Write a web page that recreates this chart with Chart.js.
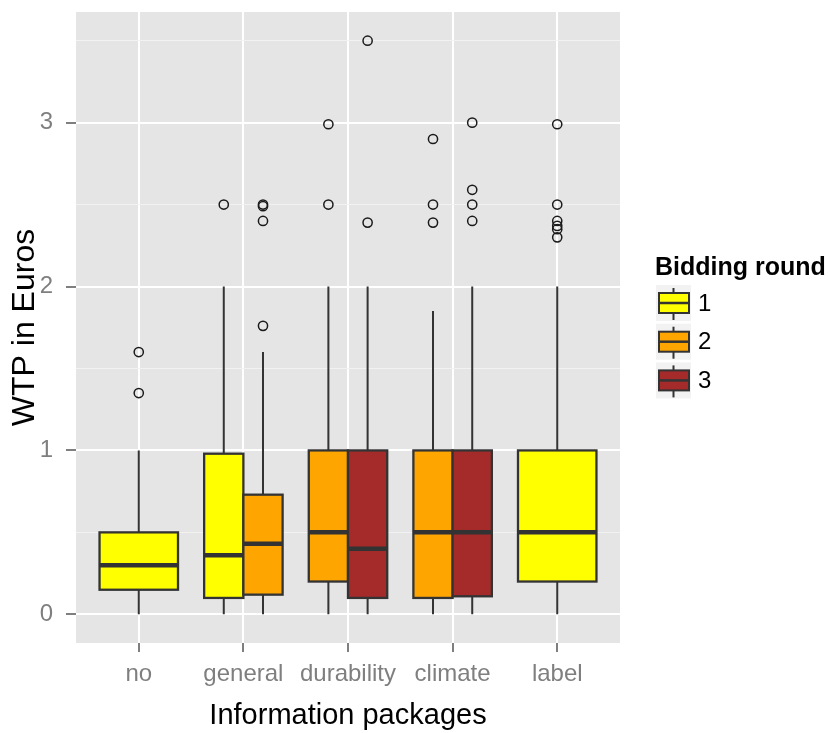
<!DOCTYPE html>
<html>
<head>
<meta charset="utf-8">
<script src="https://cdn.jsdelivr.net/npm/chart.js@4.4.1/dist/chart.umd.min.js"></script>
<style>
  html, body { margin: 0; padding: 0; background: #ffffff; }
  #wrap { width: 830px; height: 733px; }
</style>
</head>
<body>
<div id="wrap"><canvas id="chart" width="830" height="733"></canvas></div>
<script>
// Information packages on the x axis, bidding rounds as dodged groups
const categories = ['no', 'general', 'durability', 'climate', 'label'];
const rounds = ['1', '2', '3'];
const yMajorTicks = [0, 1, 2, 3];
const yMinorTicks = [0.5, 1.5, 2.5, 3.5];

// [lower whisker, Q1, median, Q3, upper whisker] per package (null = round not run)
const round1Stats = [[0, 0.15, 0.30, 0.50, 1.00], [0, 0.10, 0.36, 0.98, 2.00], null, null, [0, 0.20, 0.50, 1.00, 2.00]];
const round2Stats = [null, [0, 0.12, 0.43, 0.73, 1.60], [0, 0.20, 0.50, 1.00, 2.00], [0, 0.10, 0.50, 1.00, 1.85], null];
const round3Stats = [null, null, [0, 0.10, 0.40, 1.00, 2.00], [0, 0.11, 0.50, 1.00, 2.00], null];

// Outlying WTP answers per package
const round1Outliers = [[1.35, 1.60], [2.50], [], [], [2.30, 2.35, 2.37, 2.40, 2.50, 2.99]];
const round2Outliers = [[], [1.76, 2.40, 2.49, 2.50], [2.50, 2.99], [2.39, 2.50, 2.90], []];
const round3Outliers = [[], [], [2.39, 3.50], [2.40, 2.50, 2.59, 3.00], []];

const roundFills = ['#FFFF00', '#FFA500', '#A52A2A'];
const FONT = '"Liberation Sans", Arial, Helvetica, sans-serif';
const INK = '#333333';
const GREY = '#7F7F7F';

const statsByRound = [round1Stats, round2Stats, round3Stats];
const outliersByRound = [round1Outliers, round2Outliers, round3Outliers];
const DODGE_WIDTH = 0.75;

// position of a round's box inside its package slot (dodged)
function slot(r, c) {
  const present = statsByRound.map((s, i) => (s[c] ? i : -1)).filter(i => i >= 0);
  const n = present.length;
  const k = present.indexOf(r);
  const w = DODGE_WIDTH / n;
  return { center: c + 1 - DODGE_WIDTH / 2 + (k + 0.5) * w, width: w };
}

const datasets = rounds.map((name, r) => ({
  label: name,
  data: outliersByRound[r].flatMap((vals, c) =>
    vals.map(v => ({ x: slot(r, c).center, y: v }))),
  pointStyle: 'circle',
  pointRadius: 4.6,
  pointBorderWidth: 1.5,
  pointBorderColor: '#1a1a1a',
  pointBackgroundColor: 'rgba(0,0,0,0)',
  showLine: false
}));

const panelPlugin = {
  id: 'panel',
  beforeDraw(chart) {
    const { ctx, chartArea: a } = chart;
    ctx.save();
    ctx.fillStyle = '#ffffff';
    ctx.fillRect(0, 0, chart.width, chart.height);
    ctx.fillStyle = '#E5E5E5';
    ctx.fillRect(a.left, a.top, a.right - a.left, a.bottom - a.top);
    ctx.restore();
  }
};

const boxPlugin = {
  id: 'boxes',
  beforeDatasetsDraw(chart) {
    const { ctx, scales: { x, y } } = chart;
    ctx.save();
    statsByRound.forEach((arr, r) => arr.forEach((s, c) => {
      if (!s) return;
      const { center, width } = slot(r, c);
      const xc = x.getPixelForValue(center);
      const xl = x.getPixelForValue(center - width / 2);
      const xr = x.getPixelForValue(center + width / 2);
      const [lo, q1, med, q3, hi] = s.map(v => y.getPixelForValue(v));
      ctx.strokeStyle = INK;
      ctx.lineWidth = 2;
      ctx.beginPath();
      ctx.moveTo(xc, hi); ctx.lineTo(xc, q3);
      ctx.moveTo(xc, q1); ctx.lineTo(xc, lo);
      ctx.stroke();
      ctx.fillStyle = roundFills[r];
      ctx.fillRect(xl, q3, xr - xl, q1 - q3);
      ctx.lineWidth = 2.3;
      ctx.strokeRect(xl, q3, xr - xl, q1 - q3);
      ctx.lineWidth = 4.5;
      ctx.beginPath();
      ctx.moveTo(xl, med); ctx.lineTo(xr, med);
      ctx.stroke();
    }));
    ctx.restore();
  }
};

const legendPlugin = {
  id: 'roundLegend',
  afterDraw(chart) {
    const ctx = chart.ctx;
    ctx.save();
    ctx.fillStyle = '#000000';
    ctx.textAlign = 'left';
    ctx.textBaseline = 'alphabetic';
    ctx.font = 'bold 25px ' + FONT;
    ctx.fillText('Bidding round', 655, 275);
    rounds.forEach((name, i) => {
      const top = 285 + i * 38.7;
      const cx = 673.5, cy = top + 18;
      ctx.fillStyle = '#F2F2F2';
      ctx.fillRect(656, top, 35, 36);
      ctx.strokeStyle = INK;
      ctx.lineWidth = 2;
      ctx.beginPath();
      ctx.moveTo(cx, top + 3); ctx.lineTo(cx, top + 35);
      ctx.stroke();
      ctx.fillStyle = roundFills[i];
      ctx.fillRect(659, cy - 10, 30, 20);
      ctx.strokeRect(659, cy - 10, 30, 20);
      ctx.lineWidth = 2.5;
      ctx.beginPath();
      ctx.moveTo(659, cy); ctx.lineTo(689, cy);
      ctx.stroke();
      ctx.fillStyle = '#000000';
      ctx.textBaseline = 'middle';
      ctx.font = '24px ' + FONT;
      ctx.fillText(name, 698, cy + 1);
    });
    ctx.restore();
  }
};

const isMajor = v => yMajorTicks.includes(v);

new Chart(document.getElementById('chart'), {
  type: 'scatter',
  data: { datasets },
  plugins: [panelPlugin, boxPlugin, legendPlugin],
  options: {
    responsive: false,
    animation: false,
    events: [],
    devicePixelRatio: 1,
    layout: { padding: { left: 0, right: 210, top: 12, bottom: 0 } },
    plugins: { legend: { display: false }, tooltip: { enabled: false } },
    scales: {
      x: {
        type: 'linear',
        min: 0.4,
        max: 5.6,
        afterBuildTicks: s => { s.ticks = categories.map((_, i) => ({ value: i + 1 })); },
        afterFit: s => { s.height = 90; s.paddingLeft = 0; s.paddingRight = 0; },
        border: { display: false },
        grid: { color: '#FFFFFF', lineWidth: 2, tickColor: GREY, tickWidth: 2, tickLength: 9 },
        ticks: {
          autoSkip: false, maxRotation: 0, padding: 8, color: GREY,
          font: { family: FONT, size: 24 },
          callback: v => categories[v - 1]
        },
        title: {
          display: true, text: 'Information packages', color: '#000000',
          font: { family: FONT, size: 29 }, padding: { top: 0, bottom: 0 }
        }
      },
      y: {
        type: 'linear',
        min: -0.175,
        max: 3.675,
        afterBuildTicks: s => {
          s.ticks = yMajorTicks.concat(yMinorTicks).sort((a, b) => a - b).map(v => ({ value: v }));
        },
        afterFit: s => { s.width = 76; s.paddingTop = 0; s.paddingBottom = 0; },
        border: { display: false },
        grid: {
          color: c => (isMajor(c.tick.value) ? '#FFFFFF' : '#F2F2F2'),
          lineWidth: c => (isMajor(c.tick.value) ? 2 : 1),
          tickColor: c => (isMajor(c.tick.value) ? GREY : 'rgba(0,0,0,0)'),
          tickWidth: 2,
          tickLength: 10
        },
        ticks: {
          autoSkip: false, padding: 13, color: GREY,
          font: { family: FONT, size: 24 },
          callback: v => (isMajor(v) ? String(v) : '')
        },
        title: {
          display: true, text: 'WTP in Euros', color: '#000000',
          font: { family: FONT, size: 32 }, padding: { top: 6, bottom: 0 }
        }
      }
    }
  }
});
</script>
</body>
</html>
